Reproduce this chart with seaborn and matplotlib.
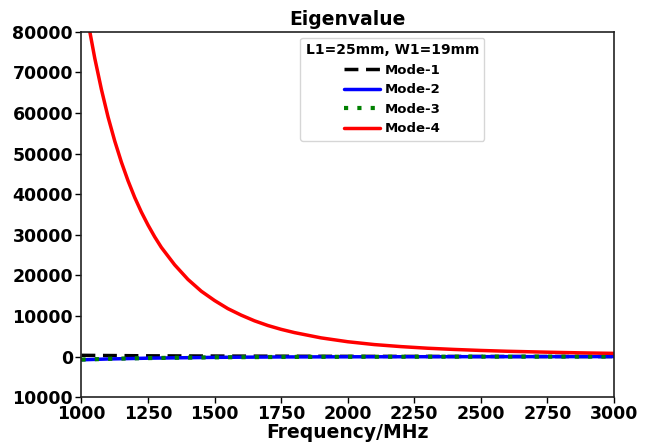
import numpy as np
import pandas as pd
import matplotlib
matplotlib.use("Agg")
import matplotlib.pyplot as plt
import seaborn as sns

# ---- data ----
freq = [1000, 1025, 1050, 1075, 1100, 1125, 1150, 1175, 1200, 1225, 1250, 1275, 1300,
        1350, 1400, 1450, 1500, 1550, 1600, 1650, 1700, 1750, 1800, 1900, 2000,
        2100, 2200, 2300, 2400, 2500, 2600, 2700, 2800, 2900, 3000]
mode4 = [92400, 82300, 73500, 65800, 59000, 53100, 47900, 43300, 39200, 35600, 32400, 29500, 26900,
         22600, 19000, 16100, 13800, 11800, 10200, 8800, 7650, 6700, 5900, 4600, 3650,
         2950, 2450, 2050, 1750, 1500, 1300, 1150, 1000, 880, 780]
freq_low = [1000, 1100, 1250, 1500, 1750, 2000, 2500, 3000]
mode1 = [300, 250, 180, 120, 80, 50, 20, 0]
mode2 = [-800, -600, -400, -200, -100, -60, -30, -10]
mode3 = [-750, -560, -380, -190, -100, -60, -30, -10]

xticks = [1000, 1250, 1500, 1750, 2000, 2250, 2500, 2750, 3000]
yticks = [-10000, 0, 10000, 20000, 30000, 40000, 50000, 60000, 70000, 80000]
ytick_labels = ["10000", "0", "10000", "20000", "30000", "40000", "50000", "60000", "70000", "80000"]

title = "Eigenvalue"
xlabel = "Frequency/MHz"
legend_title = "L1=25mm, W1=19mm"
labels = ["Mode-1", "Mode-2", "Mode-3", "Mode-4"]

sns.set_style("ticks")
plt.rcParams["font.family"] = ["DejaVu Sans"]
for k in ["text.color", "axes.labelcolor", "xtick.color", "ytick.color", "axes.edgecolor"]:
    plt.rcParams[k] = "black"

fig = plt.figure(figsize=(6.49, 4.42), dpi=100)
ax = fig.add_axes([0.1255, 0.1015, 0.946 - 0.1255, 0.928 - 0.1015])

df_low = pd.DataFrame({"f": freq_low, "m1": mode1, "m2": mode2, "m3": mode3})
df4 = pd.DataFrame({"f": freq, "m4": mode4})

sns.lineplot(data=df_low, x="f", y="m1", ax=ax, color="black", lw=2.5,
             linestyle=(0, (4, 2.2)), label=labels[0])
sns.lineplot(data=df_low, x="f", y="m2", ax=ax, color="blue", lw=2.5, label=labels[1])
sns.lineplot(data=df_low, x="f", y="m3", ax=ax, color="green", lw=3,
             linestyle=(0, (1, 2.2)), label=labels[2])
sns.lineplot(data=df4, x="f", y="m4", ax=ax, color="red", lw=2.5, label=labels[3])

ax.set_xlim(1000, 3000)
ax.set_ylim(-10000, 80000)
ax.set_xticks(xticks)
ax.set_xticklabels([str(x) for x in xticks], fontsize=12.5, fontweight="bold")
ax.set_yticks(yticks)
ax.set_yticklabels(ytick_labels, fontsize=12.5, fontweight="bold")
ax.tick_params(axis="both", length=4, width=1, color="black", pad=2)
for s in ax.spines.values():
    s.set_visible(True)
    s.set_color("#222222")
    s.set_linewidth(1.2)

ax.set_title(title, fontsize=13.5, fontweight="bold", pad=5)
ax.set_xlabel(xlabel, fontsize=13.5, fontweight="bold", labelpad=0)
ax.set_ylabel("")

leg = ax.legend(title=legend_title, loc="upper center", bbox_to_anchor=(0.584, 0.984),
                borderaxespad=0,
                prop={"weight": "bold", "size": 9.5},
                title_fontproperties={"weight": "bold", "size": 10},
                frameon=True, handlelength=2.7, handletextpad=0.4,
                labelspacing=0.5, borderpad=0.4)
leg.get_frame().set_edgecolor("#cccccc")

fig.savefig("out.png", dpi=100)
